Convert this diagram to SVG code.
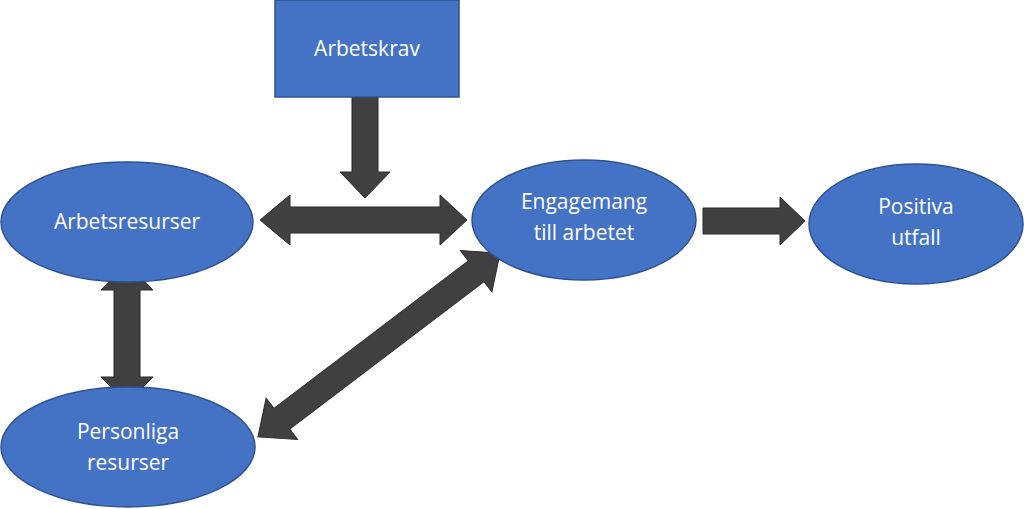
<svg xmlns="http://www.w3.org/2000/svg" width="1024" height="509" viewBox="0 0 1024 509">
<style>
.n{fill:#4472C4;stroke:#2F528F;stroke-width:1.5}
.a{fill:#404040;stroke:#2b2b2b;stroke-width:1}
text{font-family:"Open Sans","Liberation Sans",sans-serif;font-size:21px;fill:#fff;text-anchor:middle}
</style>
<rect width="1024" height="509" fill="#fff"/>
<g id="connectors">
<path class="a" d="M352,97 H378 V172 H390 L365,198 L340,172 H352 Z"/>
<path class="a" d="M260,220 L290,195 V207 H440 V195 L467,220 L440,245 V233 H290 V245 Z"/>
<path class="a" d="M703,208 H780 V197 L805,221 L780,245 V234 H703 Z"/>
<path class="a" d="M127,263 L153,290 H140 V377 H153 L127,403 L101,377 H114 V290 H101 Z"/>
<path class="a" transform="translate(379,345) rotate(-37.2)" d="M-152,0 L-122,-26 V-13 H122 V-26 L152,0 L122,26 V13 H-122 V26 Z"/>
</g>
<g id="arbetskrav"><rect class="n" x="275" y="0" width="184" height="97"/><text x="367" y="56">Arbetskrav</text></g>
<g id="arbetsresurser"><ellipse class="n" cx="127" cy="222" rx="126" ry="60"/><text x="127" y="229">Arbetsresurser</text></g>
<g id="engagemang"><ellipse class="n" cx="584" cy="220" rx="112" ry="60"/><text x="584" y="209">Engagemang</text><text x="584" y="240">till arbetet</text></g>
<g id="positiva"><ellipse class="n" cx="916" cy="224" rx="107" ry="60"/><text x="916" y="214">Positiva</text><text x="916" y="245">utfall</text></g>
<g id="personliga"><ellipse class="n" cx="128" cy="447" rx="127" ry="60"/><text x="128" y="439">Personliga</text><text x="128" y="470">resurser</text></g>
</svg>
